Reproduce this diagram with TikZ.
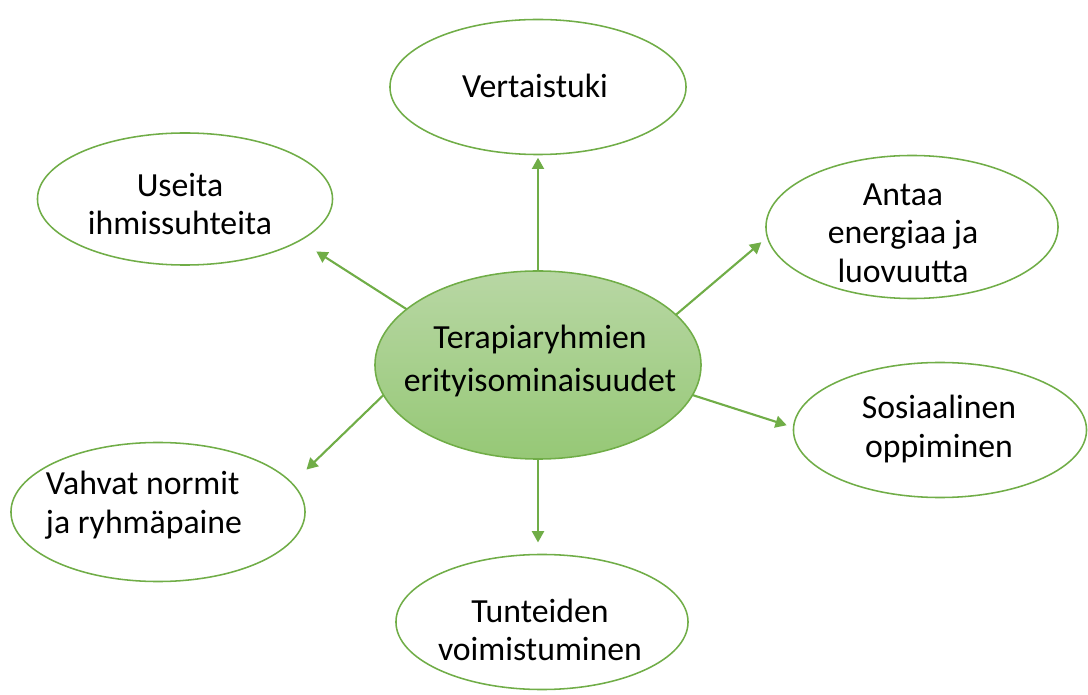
\documentclass[tikz,border=0pt]{standalone}
\usepackage{fontspec}
\setmainfont{Carlito}
\usetikzlibrary{arrows.meta, shapes.geometric}
\definecolor{leafgreen}{RGB}{112, 173, 71}
\definecolor{hubtop}{RGB}{184, 215, 164}
\definecolor{hubbottom}{RGB}{150, 200, 118}
\tikzset{
  bubble/.style={ellipse, draw=leafgreen, line width=1.1pt, fill=white, inner sep=0pt, outer sep=0pt},
  hubbubble/.style={bubble, top color=hubtop, bottom color=hubbottom},
  bubbletext/.style={align=center, inner sep=0pt, font=\fontsize{24}{27.5}\selectfont},
  spoke/.style={draw=leafgreen, line width=1.5pt, -{Triangle[length=8pt, width=8.5pt]}}
}

\begin{document}
\begin{tikzpicture}[x=0.025cm, y=-0.025cm]
\useasboundingbox (0,0) rectangle (1088,695);
% bubbles
\node[hubbubble, minimum width=8.15cm, minimum height=4.7cm] (hub) at (538,365) {};
\node[bubble, minimum width=7.4cm, minimum height=3.375cm] (vert) at (538,87) {};
\node[bubble, minimum width=7.375cm, minimum height=3.3cm] (useita) at (185,199) {};
\node[bubble, minimum width=7.3cm, minimum height=3.575cm] (antaa) at (912,227) {};
\node[bubble, minimum width=7.325cm, minimum height=3.375cm] (sosiaal) at (940,430) {};
\node[bubble, minimum width=7.35cm, minimum height=3.475cm] (vahvat) at (158,512) {};
\node[bubble, minimum width=7.3cm, minimum height=3.375cm] (tunteiden) at (542,622) {};
% texts
\node[bubbletext, font=\fontsize{24}{30.6}\selectfont] (hub-text) at (540,361) {Terapiaryhmien\\erityisominaisuudet};
\node[bubbletext] (vert-text) at (535,86) {Vertaistuki};
\node[bubbletext] (useita-text) at (180,204) {Useita\\ihmissuhteita};
\node[bubbletext] (antaa-text) at (903,233) {Antaa\\energiaa ja\\luovuutta};
\node[bubbletext] (sosiaal-text) at (939,429) {Sosiaalinen\\oppiminen};
\node[bubbletext, align=left] (vahvat-text) at (144,505) {Vahvat normit\\ja ryhmäpaine};
\node[bubbletext] (tunteiden-text) at (540,630) {Tunteiden\\voimistuminen};
% arrows
\draw[spoke, shorten >=0.08cm] (hub.north) -- (vert.south);
\draw[spoke, shorten >=0.5cm] (hub.157) -- (useita.-20);
\draw[spoke, shorten >=0.2cm] (hub.20) -- (antaa.184);
\draw[spoke, shorten >=0.18cm] (hub.-11) -- (sosiaal.179);
\draw[spoke, shorten >=0.5cm] (hub.191) -- (vahvat.12);
\draw[spoke, shorten >=0.3cm] (hub.south) -- (hub.south |- tunteiden.north);
\end{tikzpicture}
\end{document}
